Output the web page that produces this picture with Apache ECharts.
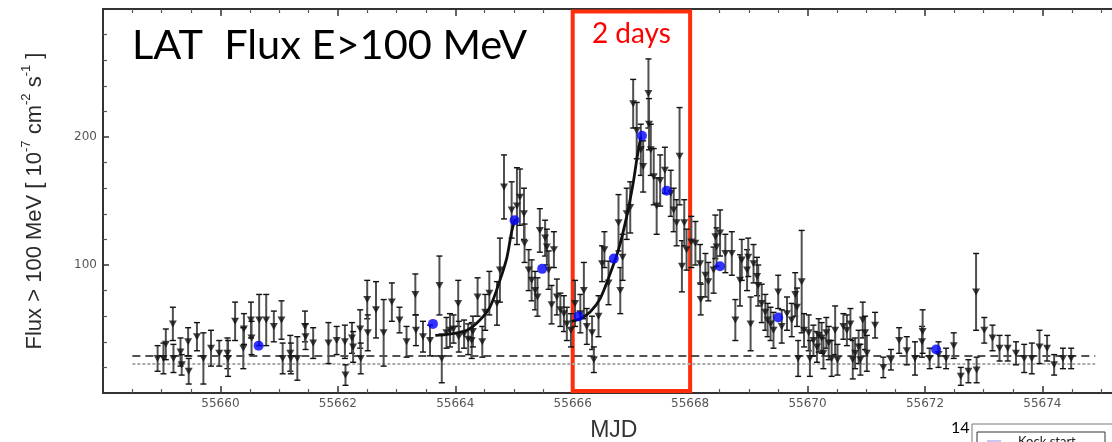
<!DOCTYPE html>
<html>
<head>
<meta charset="utf-8">
<script src="https://cdn.jsdelivr.net/npm/echarts@6/dist/echarts.min.js"></script>
<style>
  html, body { margin: 0; padding: 0; background: #fff; }
  #chart { width: 1112px; height: 442px; }
</style>
</head>
<body>
<div id="chart"></div>
<script>
// LAT light curve, E > 100 MeV: time bins (MJD), flux [1e-7 cm^-2 s^-1] and 1-sigma errors
const mjd = [
  55658.93, 55659.03, 55659.07, 55659.19, 55659.20, 55659.32, 55659.34, 55659.45, 55659.46, 55659.60,
  55659.71, 55659.84, 55659.98, 55660.12, 55660.13, 55660.25, 55660.39, 55660.40, 55660.52, 55660.53,
  55660.66, 55660.78, 55660.91, 55661.04, 55661.06, 55661.19, 55661.20, 55661.31, 55661.44, 55661.45,
  55661.58, 55661.84, 55661.98, 55662.12, 55662.13, 55662.24, 55662.26, 55662.38, 55662.39, 55662.50,
  55662.51, 55662.65, 55662.78, 55662.92, 55663.05, 55663.17, 55663.32, 55663.33, 55663.45, 55663.57,
  55663.73, 55663.77, 55663.85, 55663.91, 55663.97, 55664.05, 55664.06, 55664.15, 55664.22, 55664.28,
  55664.30, 55664.38, 55664.46, 55664.51, 55664.58, 55664.71, 55664.76, 55664.83, 55664.96, 55665.05,
  55665.10, 55665.17, 55665.18, 55665.25, 55665.30, 55665.36, 55665.40, 55665.44, 55665.53, 55665.56,
  55665.59, 55665.64, 55665.68, 55665.73, 55665.79, 55665.85, 55665.90, 55665.97, 55666.04, 55666.13,
  55666.19, 55666.24, 55666.33, 55666.36, 55666.44, 55666.50, 55666.54, 55666.61, 55666.78, 55666.81,
  55666.85, 55666.92, 55666.98, 55667.03, 55667.09, 55667.16, 55667.20, 55667.29, 55667.30, 55667.33,
  55667.38, 55667.43, 55667.49, 55667.57, 55667.67, 55667.72, 55667.77, 55667.82, 55667.86, 55667.90,
  55667.94, 55668.02, 55668.09, 55668.17, 55668.18, 55668.26, 55668.31, 55668.40, 55668.43, 55668.45,
  55668.51, 55668.60, 55668.71, 55668.77, 55668.85, 55668.88, 55668.97, 55668.99, 55669.03, 55669.08,
  55669.14, 55669.16, 55669.22, 55669.28, 55669.32, 55669.37, 55669.42, 55669.50, 55669.56, 55669.65,
  55669.73, 55669.79, 55669.82, 55669.84, 55669.90, 55669.94, 55670.02, 55670.04, 55670.10, 55670.16,
  55670.19, 55670.24, 55670.27, 55670.32, 55670.36, 55670.41, 55670.47, 55670.51, 55670.61, 55670.67,
  55670.73, 55670.77, 55670.81, 55670.87, 55670.90, 55670.94, 55670.98, 55671.01, 55671.15, 55671.29,
  55671.42, 55671.56, 55671.69, 55671.83, 55671.95, 55671.96, 55672.08, 55672.23, 55672.36, 55672.49,
  55672.61, 55672.74, 55672.87, 55672.88, 55673.01, 55673.15, 55673.27, 55673.41, 55673.55, 55673.69,
  55673.82, 55673.95, 55674.08, 55674.20, 55674.35, 55674.49
];
const flux = [
  27, 27, 38, 54, 27, 32, 22, 40, 17, 44,
  27, 35, 31, 31, 27, 56, 35, 50, 57, 43,
  57, 57, 52, 57, 27, 31, 27, 27, 52, 44,
  39, 39, 41, 40, 14, 43, 36, 50, 27, 73,
  47, 65, 47, 71, 57, 40, 77, 49, 44, 41,
  84, 27, 47, 49, 50, 70, 44, 46, 42, 41,
  48, 75, 40, 63, 78, 70, 96, 161, 143, 146,
  153, 140, 117, 96, 88, 80, 75, 127, 121, 114,
  96, 69, 112, 75, 65, 62, 54, 49, 70, 62,
  80, 52, 47, 26, 60, 101, 112, 86, 133, 80,
  106, 140, 145, 226, 205, 190, 177, 234, 210, 190,
  169, 146, 166, 174, 156, 143, 133, 185, 99, 133,
  112, 118, 117, 101, 73, 92, 87, 96, 122, 114,
  125, 109, 109, 57, 88, 104, 96, 106, 54, 101,
  91, 84, 70, 63, 57, 54, 49, 79, 52, 62,
  57, 77, 67, 27, 87, 49, 47, 27, 41, 36,
  45, 43, 31, 47, 39, 27, 49, 26, 52, 49,
  54, 26, 31, 36, 26, 57, 47, 31, 53, 20,
  26, 41, 33, 27, 40, 48, 27, 30, 27, 37,
  13, 17, 79, 18, 49, 43, 35, 35, 31, 27,
  27, 36, 35, 22, 27, 27
];
const fluxErr = [
  10, 12, 12, 13, 11, 11, 8, 11, 10, 11,
  20, 14, 10, 12, 14, 15, 16, 12, 14, 13,
  20, 20, 12, 15, 12, 14, 12, 17, 12, 10,
  12, 16, 11, 13, 8, 12, 12, 15, 12, 15,
  14, 22, 26, 15, 10, 12, 16, 12, 12, 12,
  23, 19, 12, 13, 11, 18, 12, 11, 12, 14,
  12, 15, 12, 14, 17, 17, 25, 25, 22, 30,
  22, 20, 15, 16, 16, 15, 15, 17, 14, 14,
  15, 15, 14, 14, 13, 14, 13, 13, 18, 15,
  22, 14, 13, 10, 16, 14, 14, 17, 22, 18,
  18, 20, 20, 19, 22, 20, 20, 27, 20, 20,
  22, 22, 20, 18, 18, 17, 18, 38, 20, 18,
  16, 20, 17, 15, 12, 17, 15, 18, 17, 15,
  18, 15, 17, 16, 20, 16, 16, 15, 21, 15,
  15, 16, 15, 14, 13, 13, 14, 13, 13, 13,
  13, 17, 15, 14, 40, 13, 14, 14, 12, 12,
  13, 12, 12, 12, 13, 14, 19, 12, 10, 12,
  12, 15, 12, 13, 12, 14, 13, 14, 10, 8,
  8, 10, 11, 13, 12, 17, 8, 10, 8, 10,
  7, 9, 30, 10, 10, 10, 10, 10, 9, 11,
  12, 13, 10, 8, 8, 8
];

// Coarser bins overplotted in blue
const blueMjd  = [55660.65, 55663.62, 55665.01, 55665.48, 55666.10, 55666.70, 55667.18, 55667.60, 55668.51, 55669.50, 55672.19];
const blueFlux = [37, 54, 135, 97, 60, 105, 201, 158, 99, 59, 34];

// Rising-flare fits
const fit1Mjd  = [55663.66, 55663.90, 55664.20, 55664.42, 55664.59, 55664.76, 55664.88, 55664.96, 55665.02];
const fit1Flux = [45, 46, 49, 57, 67, 88, 106, 126, 136];
const fit2Mjd  = [55665.98, 55666.13, 55666.30, 55666.47, 55666.64, 55666.78, 55666.92, 55667.03, 55667.10, 55667.16];
const fit2Flux = [56, 58, 63.5, 74, 93.5, 112, 138, 164, 185, 200];

// Reference levels
const levelSpan   = [55658.5, 55674.9];
const dashedLevel = 28.9;
const dottedLevel = 22.7;

// Highlighted 2-day window
const windowMjd  = [55666, 55668];
const windowFlux = [1.5, 298];

const chart = echarts.init(document.getElementById('chart'), null, { renderer: 'canvas' });

const axisColor = '#333';
const labelFont = { fontFamily: 'DejaVu Sans', fontSize: 12, color: '#555' };

function xAxisBase(position) {
  return {
    type: 'value',
    position: position,
    min: 55658,
    max: 55675.4,
    interval: 2,
    axisLine: { show: true, onZero: false, lineStyle: { color: axisColor, width: 2 } },
    axisTick: { show: true, inside: true, length: 7, lineStyle: { color: axisColor, width: 1.5 } },
    minorTick: { show: true, splitNumber: 4, length: 4, lineStyle: { color: '#555', width: 1.2 } },
    splitLine: { show: false },
    minorSplitLine: { show: false }
  };
}

const errorBarSeries = {
  type: 'custom',
  name: 'errors',
  z: 2,
  data: mjd.map((x, i) => [x, flux[i], fluxErr[i]]),
  renderItem: function (params, api) {
    const x = api.value(0), y = api.value(1), e = api.value(2);
    const top = api.coord([x, y + e]);
    const bot = api.coord([x, y - e]);
    const cap = 3;
    return {
      type: 'group',
      children: [
        { type: 'line', shape: { x1: top[0], y1: top[1], x2: bot[0], y2: bot[1] },
          style: { stroke: '#505050', lineWidth: 2 } },
        { type: 'line', shape: { x1: top[0] - cap, y1: top[1], x2: top[0] + cap, y2: top[1] },
          style: { stroke: '#111', lineWidth: 1.4 } },
        { type: 'line', shape: { x1: bot[0] - cap, y1: bot[1], x2: bot[0] + cap, y2: bot[1] },
          style: { stroke: '#111', lineWidth: 1.4 } }
      ]
    };
  }
};

const option = {
  animation: false,
  backgroundColor: '#fff',
  // the frame runs past the right edge of the canvas, so keep the grid at its exact size
  grid: { left: 103, top: 9, width: 1021.6, height: 384, containLabel: false, outerBoundsMode: 'none' },
  title: {
    text: 'LAT  Flux E>100 MeV',
    left: 132,
    top: 25,
    padding: 0,
    textStyle: { fontFamily: 'Lato', fontSize: 41.5, fontWeight: 'normal', color: '#000' }
  },
  xAxis: [
    Object.assign(xAxisBase('bottom'), {
      axisLabel: Object.assign({ margin: 5, formatter: v => (v > 55658 && v < 55675) ? String(v) : '' }, labelFont),
      name: 'MJD',
      nameLocation: 'middle',
      nameGap: 26,
      nameTextStyle: { fontFamily: 'Liberation Sans', fontSize: 23, color: '#333' }
    }),
    Object.assign(xAxisBase('top'), { axisLabel: { show: false } })
  ],
  yAxis: {
    type: 'value',
    min: 0,
    max: 300,
    interval: 100,
    axisLine: { show: true, onZero: false, lineStyle: { color: axisColor, width: 2 } },
    axisTick: { show: true, inside: true, length: 6, lineStyle: { color: axisColor, width: 1.5 } },
    minorTick: { show: true, splitNumber: 5, length: 4, lineStyle: { color: '#555', width: 1.2 } },
    splitLine: { show: false },
    axisLabel: Object.assign({ margin: 6, formatter: v => (v === 100 || v === 200) ? String(v) : '' }, labelFont),
    name: '{a|Flux > 100 MeV [ 10}{s|-7}{a| cm}{s|-2}{a| s}{s|-1}{a| ]}',
    nameLocation: 'middle',
    nameGap: 57,
    nameRotate: 90,
    nameTextStyle: {
      rich: {
        a: { fontFamily: 'Liberation Sans', fontSize: 22, color: '#2a2a2a', lineHeight: 26, verticalAlign: 'bottom' },
        s: { fontFamily: 'Liberation Sans', fontSize: 13, color: '#2a2a2a', lineHeight: 26, verticalAlign: 'top' }
      }
    }
  },
  series: [
    {
      type: 'line',
      name: 'dotted level',
      data: levelSpan.map(x => [x, dottedLevel]),
      showSymbol: false,
      lineStyle: { color: '#aaa', width: 2, type: [3, 2] },
      z: 1
    },
    {
      type: 'line',
      name: 'dashed level',
      data: levelSpan.map(x => [x, dashedLevel]),
      showSymbol: false,
      lineStyle: { color: '#1a1a1a', width: 1.4, type: [8, 5] },
      z: 1,
      markArea: {
        silent: true,
        itemStyle: { color: 'rgba(0,0,0,0)', borderColor: '#ff2d0a', borderWidth: 4 },
        label: {
          show: true,
          position: 'insideTop',
          distance: 10,
          color: '#ff0000',
          fontFamily: 'Lato',
          fontSize: 28
        },
        data: [[
          { name: '2 days', xAxis: windowMjd[0], yAxis: windowFlux[0] },
          { xAxis: windowMjd[1], yAxis: windowFlux[1] }
        ]]
      }
    },
    errorBarSeries,
    {
      type: 'scatter',
      name: 'flux',
      data: mjd.map((x, i) => [x, flux[i]]),
      symbol: 'triangle',
      symbolRotate: 180,
      symbolSize: [8, 7],
      itemStyle: { color: '#111' },
      z: 3
    },
    {
      type: 'line',
      name: 'fit 1',
      data: fit1Mjd.map((x, i) => [x, fit1Flux[i]]),
      showSymbol: false,
      smooth: 0.3,
      lineStyle: { color: '#111', width: 2.8 },
      z: 4
    },
    {
      type: 'line',
      name: 'fit 2',
      data: fit2Mjd.map((x, i) => [x, fit2Flux[i]]),
      showSymbol: false,
      smooth: 0.3,
      lineStyle: { color: '#111', width: 2.8 },
      z: 4
    },
    {
      type: 'scatter',
      name: 'blue bins',
      data: blueMjd.map((x, i) => [x, blueFlux[i]]),
      symbol: 'circle',
      symbolSize: 10,
      itemStyle: { color: '#0000ff' },
      z: 5
    }
  ],
  graphic: [
    { type: 'text', left: 951, top: 420, style: { text: '14', font: '16px Lato', fill: '#000' } },
    { type: 'rect', shape: { x: 972, y: 424, width: 200, height: 40 }, style: { fill: 'none', stroke: '#777', lineWidth: 1 } },
    { type: 'rect', shape: { x: 977, y: 432, width: 128, height: 30 }, style: { fill: 'none', stroke: '#333', lineWidth: 1 } },
    { type: 'line', shape: { x1: 987, y1: 441, x2: 1001, y2: 441 }, style: { stroke: '#c8c8ee', lineWidth: 2 } },
    { type: 'text', left: 1018, top: 435, style: { text: 'Kock start', font: '13px Lato', fill: '#222' } }
  ]
};

chart.setOption(option);
</script>
</body>
</html>
